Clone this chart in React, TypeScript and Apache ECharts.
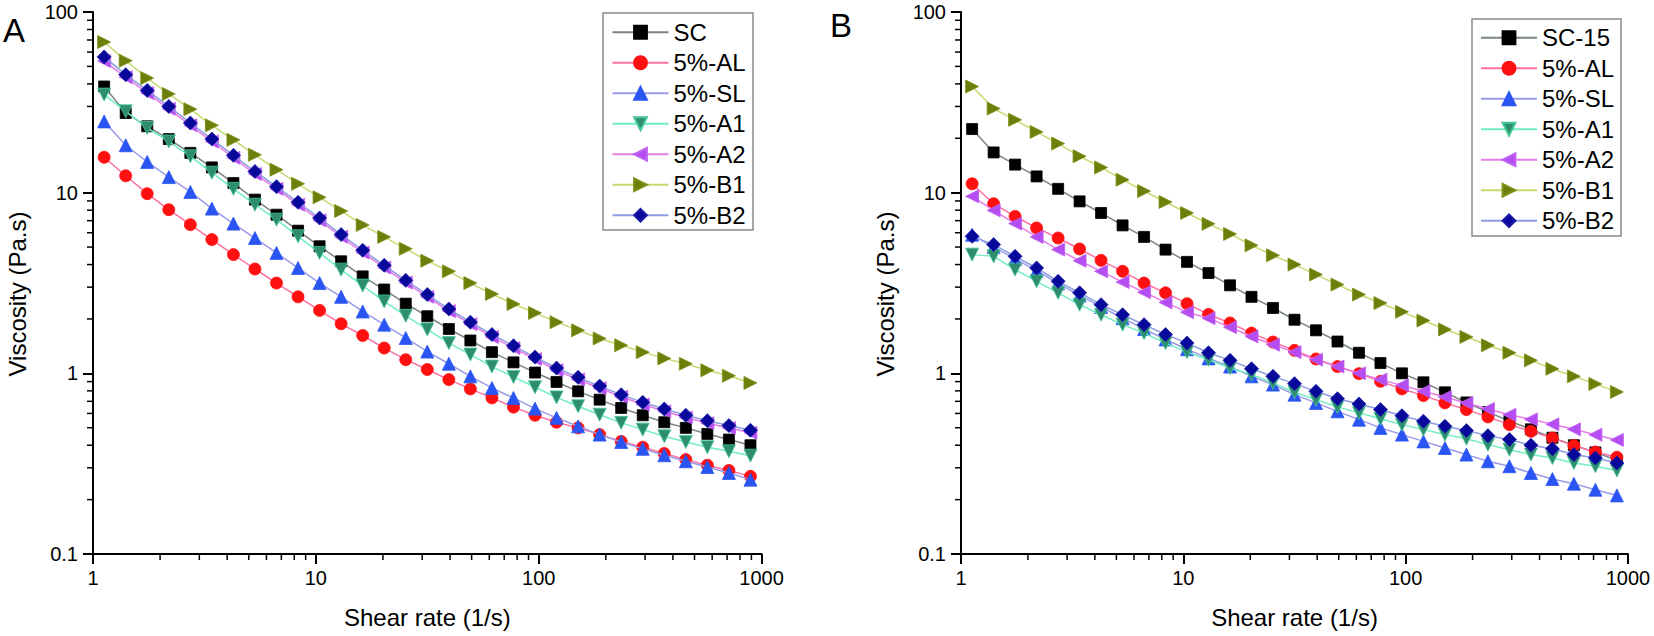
import React, { useEffect, useRef } from 'react';
import * as echarts from 'echarts';

// ---------- data ----------
const SHEAR_RATE = [1.122, 1.402, 1.751, 2.188, 2.734, 3.415, 4.266, 5.33, 6.658, 8.318, 10.39, 12.98, 16.22, 20.26, 25.31, 31.62, 39.51, 49.35, 61.66, 77.03, 96.23, 120.2, 150.2, 187.6, 234.4, 292.9, 365.9, 457.1, 571.0, 713.4, 891.3];

const A_SC = [38.7, 27.6, 23.3, 19.8, 16.6, 13.8, 11.3, 9.15, 7.55, 6.16, 5.05, 4.17, 3.44, 2.91, 2.43, 2.07, 1.76, 1.52, 1.31, 1.15, 1.01, 0.896, 0.795, 0.715, 0.643, 0.586, 0.536, 0.499, 0.462, 0.43, 0.4];
const A_AL = [15.7, 12.4, 9.87, 8.05, 6.65, 5.5, 4.54, 3.78, 3.16, 2.65, 2.23, 1.88, 1.62, 1.38, 1.19, 1.05, 0.923, 0.82, 0.731, 0.65, 0.586, 0.536, 0.499, 0.458, 0.42, 0.39, 0.36, 0.333, 0.31, 0.29, 0.269];
const A_SL = [24.8, 18.3, 14.8, 12.2, 10.1, 8.16, 6.74, 5.61, 4.64, 3.83, 3.16, 2.65, 2.2, 1.86, 1.57, 1.32, 1.13, 0.962, 0.83, 0.731, 0.638, 0.567, 0.509, 0.458, 0.417, 0.382, 0.352, 0.326, 0.303, 0.281, 0.258];
const A_A1 = [34.9, 28.2, 22.8, 19.2, 15.9, 12.9, 10.5, 8.58, 7.09, 5.73, 4.64, 3.75, 3.06, 2.5, 2.08, 1.75, 1.47, 1.27, 1.09, 0.955, 0.837, 0.736, 0.657, 0.59, 0.532, 0.488, 0.448, 0.417, 0.39, 0.37, 0.35];
const A_A2 = [53.5, 43.6, 35.6, 29.1, 23.6, 19.2, 15.6, 12.7, 10.5, 8.58, 7.03, 5.7, 4.66, 3.85, 3.18, 2.65, 2.21, 1.87, 1.59, 1.38, 1.2, 1.04, 0.925, 0.827, 0.742, 0.672, 0.617, 0.569, 0.53, 0.498, 0.469];
const A_B1 = [68.2, 53.8, 43.1, 35.2, 29.0, 23.6, 19.6, 16.2, 13.4, 11.2, 9.42, 7.92, 6.63, 5.69, 4.89, 4.2, 3.67, 3.16, 2.75, 2.42, 2.16, 1.92, 1.73, 1.56, 1.43, 1.31, 1.21, 1.13, 1.04, 0.97, 0.885];
const A_B2 = [56.4, 45.0, 36.8, 30.0, 24.3, 19.8, 16.1, 13.1, 10.8, 8.84, 7.24, 5.86, 4.8, 3.96, 3.27, 2.73, 2.27, 1.92, 1.64, 1.42, 1.23, 1.07, 0.95, 0.85, 0.762, 0.691, 0.635, 0.586, 0.547, 0.514, 0.484];

const B_SC = [22.5, 16.7, 14.3, 12.3, 10.5, 8.95, 7.72, 6.59, 5.69, 4.84, 4.14, 3.59, 3.07, 2.65, 2.3, 1.98, 1.73, 1.5, 1.3, 1.14, 1.0, 0.892, 0.785, 0.69, 0.61, 0.545, 0.49, 0.44, 0.4, 0.365, 0.33];
const B_AL = [11.2, 8.69, 7.39, 6.38, 5.61, 4.88, 4.22, 3.67, 3.16, 2.79, 2.43, 2.12, 1.9, 1.67, 1.49, 1.34, 1.2, 1.09, 0.996, 0.903, 0.82, 0.753, 0.686, 0.63, 0.574, 0.52, 0.478, 0.439, 0.398, 0.367, 0.343];
const B_SL = [5.85, 5.0, 4.3, 3.7, 3.15, 2.7, 2.33, 2.02, 1.76, 1.54, 1.36, 1.21, 1.09, 0.962, 0.866, 0.762, 0.686, 0.616, 0.554, 0.499, 0.458, 0.42, 0.386, 0.355, 0.326, 0.306, 0.281, 0.26, 0.245, 0.227, 0.211];
const B_A1 = [4.54, 4.44, 3.75, 3.23, 2.79, 2.4, 2.11, 1.86, 1.67, 1.47, 1.31, 1.19, 1.07, 0.984, 0.885, 0.785, 0.715, 0.652, 0.604, 0.56, 0.52, 0.488, 0.458, 0.434, 0.403, 0.378, 0.355, 0.34, 0.319, 0.306, 0.29];
const B_A2 = [9.54, 7.98, 6.74, 5.69, 4.84, 4.2, 3.67, 3.2, 2.81, 2.47, 2.18, 2.02, 1.8, 1.6, 1.44, 1.31, 1.19, 1.09, 1.0, 0.923, 0.858, 0.795, 0.74, 0.686, 0.635, 0.59, 0.556, 0.522, 0.49, 0.457, 0.428];
const B_B1 = [38.7, 29.2, 25.3, 21.7, 18.7, 15.9, 13.8, 11.8, 10.2, 8.88, 7.72, 6.72, 5.91, 5.11, 4.5, 4.0, 3.52, 3.1, 2.73, 2.45, 2.19, 1.96, 1.75, 1.59, 1.43, 1.3, 1.18, 1.06, 0.962, 0.874, 0.789];
const B_B2 = [5.73, 5.16, 4.44, 3.83, 3.23, 2.79, 2.4, 2.11, 1.86, 1.64, 1.47, 1.3, 1.18, 1.06, 0.962, 0.877, 0.795, 0.724, 0.677, 0.63, 0.583, 0.543, 0.509, 0.482, 0.452, 0.43, 0.4, 0.382, 0.355, 0.34, 0.319];

const NAMES_A = ['SC', '5%-AL', '5%-SL', '5%-A1', '5%-A2', '5%-B1', '5%-B2'];
const NAMES_B = ['SC-15', '5%-AL', '5%-SL', '5%-A1', '5%-A2', '5%-B1', '5%-B2'];
const VALUES_A = [A_SC, A_AL, A_SL, A_A1, A_A2, A_B1, A_B2];
const VALUES_B = [B_SC, B_AL, B_SL, B_A1, B_A2, B_B1, B_B2];

const X_TICK_LABELS = ['1', '10', '100', '1000'];
const Y_TICK_LABELS = ['0.1', '1', '10', '100'];
const X_MINOR = [2, 3, 4, 5, 6, 7, 8, 9, 20, 30, 40, 50, 60, 70, 80, 90, 200, 300, 400, 500, 600, 700, 800, 900];
const Y_MINOR = [0.2, 0.3, 0.4, 0.5, 0.6, 0.7, 0.8, 0.9, 2, 3, 4, 5, 6, 7, 8, 9, 20, 30, 40, 50, 60, 70, 80, 90];

const X_TITLE = 'Shear rate (1/s)';
const Y_TITLE = 'Viscosity (Pa.s)';
const PANEL_LABELS = ['A', 'B'];

// ---------- styles ----------
const FONT = 'Liberation Sans';
const SYM_UP = 'path://M5,0 L10,10 L0,10 Z';
const SYM_DOWN = 'path://M0,0 L10,0 L5,10 Z';
const SYM_LEFT = 'path://M10,0 L10,10 L0,5 Z';
const SYM_RIGHT = 'path://M0,0 L10,5 L0,10 Z';
const STYLES = [
  { symbol: 'rect', size: 11, color: '#000000', border: '#000000', line: '#7a8585' },
  { symbol: 'circle', size: 12, color: '#ff1010', border: '#ff1010', line: '#ff6f9f' },
  { symbol: SYM_UP, size: 13, color: '#2a55f2', border: '#2a55f2', line: '#9a9aea' },
  { symbol: SYM_DOWN, size: 13, color: '#2e8c70', border: '#44c892', line: '#70eec0' },
  { symbol: SYM_LEFT, size: 13, color: '#b54ef2', border: '#c060f0', line: '#e77de7' },
  { symbol: SYM_RIGHT, size: 13, color: '#6e7e0a', border: '#7f8f18', line: '#c5da70' },
  { symbol: 'diamond', size: 14, color: '#08089a', border: '#1a1aa8', line: '#8c9be3' },
];

const GRIDS = [
  { left: 93, top: 12, width: 668.6, height: 542 },
  { left: 961, top: 12, width: 667, height: 542 },
];

function xAxis(gridIndex: number) {
  return {
    type: 'log', logBase: 10, min: 1, max: 1000, gridIndex,
    name: X_TITLE, nameLocation: 'middle', nameGap: 51,
    nameTextStyle: { fontSize: 24, color: '#000', fontFamily: FONT },
    axisLine: { show: true, onZero: false, lineStyle: { color: '#000', width: 2 } },
    axisTick: { show: true, inside: false, length: 10, lineStyle: { color: '#000', width: 2 } },
    axisLabel: {
      fontSize: 20, color: '#000', margin: 14, fontFamily: FONT,
      formatter: (v: number) => X_TICK_LABELS[Math.round(Math.log10(v))] ?? '',
    },
    splitLine: { show: false },
  };
}
function yAxis(gridIndex: number) {
  return {
    type: 'log', logBase: 10, min: 0.1, max: 100, gridIndex,
    axisLine: { show: true, onZero: false, lineStyle: { color: '#000', width: 2 } },
    axisTick: { show: true, inside: false, length: 10, lineStyle: { color: '#000', width: 2 } },
    axisLabel: {
      fontSize: 20, color: '#000', margin: 15, fontFamily: FONT,
      formatter: (v: number) => Y_TICK_LABELS[Math.round(Math.log10(v)) + 1] ?? '',
    },
    splitLine: { show: false },
  };
}

function minorTickSeries(gridIndex: number) {
  return [
    {
      type: 'custom', xAxisIndex: gridIndex, yAxisIndex: gridIndex, silent: true, z: 10,
      data: X_MINOR.map((v) => [v, 0.1]),
      renderItem: (_p: any, api: any) => {
        const pt = api.coord([api.value(0), api.value(1)]);
        return { type: 'line', shape: { x1: pt[0], y1: pt[1], x2: pt[0], y2: pt[1] + 6 }, style: { stroke: '#000', lineWidth: 1.5 } };
      },
    },
    {
      type: 'custom', xAxisIndex: gridIndex, yAxisIndex: gridIndex, silent: true, z: 10,
      data: Y_MINOR.map((v) => [1, v]),
      renderItem: (_p: any, api: any) => {
        const pt = api.coord([api.value(0), api.value(1)]);
        return { type: 'line', shape: { x1: pt[0], y1: pt[1], x2: pt[0] - 6, y2: pt[1] }, style: { stroke: '#000', lineWidth: 1.5 } };
      },
    },
  ];
}

function lineSeries(gridIndex: number, names: string[], values: number[][]) {
  return names.map((name, s) => {
    const st = STYLES[s];
    return {
      type: 'line', name, xAxisIndex: gridIndex, yAxisIndex: gridIndex,
      data: SHEAR_RATE.map((x, i) => [x, values[s][i]]),
      symbol: st.symbol, symbolSize: st.size, showSymbol: true,
      itemStyle: { color: st.color, borderColor: st.border, borderWidth: 0.8 },
      lineStyle: { color: st.line, width: 1.5 },
      emphasis: { disabled: true },
      z: 2 + s,
    };
  });
}

function legend(left: number, top: number, names: string[]) {
  return {
    orient: 'vertical', left, top, padding: 0, itemGap: 0, itemWidth: 56, itemHeight: 16,
    selectedMode: false, data: names,
    textStyle: { fontSize: 24, color: '#000', lineHeight: 30.5, fontFamily: FONT },
  };
}

function yTitle(x: number) {
  return {
    type: 'text', x, y: 294, rotation: Math.PI / 2,
    style: { text: Y_TITLE, fontSize: 24, fill: '#000', fontFamily: FONT, align: 'center', textAlign: 'center', verticalAlign: 'middle', textVerticalAlign: 'middle' },
  };
}

const option: any = {
  animation: false,
  backgroundColor: '#fff',
  textStyle: { fontFamily: FONT },
  grid: GRIDS,
  xAxis: [xAxis(0), xAxis(1)],
  yAxis: [yAxis(0), yAxis(1)],
  legend: [legend(611.5, 17, NAMES_A), legend(1480, 22.5, NAMES_B)],
  graphic: [
    { type: 'rect', shape: { x: 603, y: 13, width: 150, height: 217 }, style: { fill: 'none', stroke: '#8a8a8a', lineWidth: 1.5 }, z: 0 },
    { type: 'rect', shape: { x: 1472, y: 19, width: 149, height: 217 }, style: { fill: 'none', stroke: '#8a8a8a', lineWidth: 1.5 }, z: 0 },
    { type: 'text', x: 3, y: 30, style: { text: PANEL_LABELS[0], fontSize: 33, fill: '#000', fontFamily: FONT, textVerticalAlign: 'middle', verticalAlign: 'middle' } },
    { type: 'text', x: 830, y: 25, style: { text: PANEL_LABELS[1], fontSize: 33, fill: '#000', fontFamily: FONT, textVerticalAlign: 'middle', verticalAlign: 'middle' } },
    yTitle(17),
    yTitle(885),
  ],
  series: [
    ...lineSeries(0, NAMES_A, VALUES_A),
    ...lineSeries(1, NAMES_B, VALUES_B),
    ...minorTickSeries(0),
    ...minorTickSeries(1),
  ],
};

export default function App() {
  const ref = useRef<HTMLDivElement>(null);
  useEffect(() => {
    const chart = echarts.init(ref.current as HTMLDivElement, null, { renderer: 'svg' });
    chart.setOption(option);
    return () => chart.dispose();
  }, []);
  return (
    <div
      ref={ref}
      style={{ position: 'fixed', left: 0, top: 0, width: 1654, height: 636, background: '#fff' }}
    />
  );
}
